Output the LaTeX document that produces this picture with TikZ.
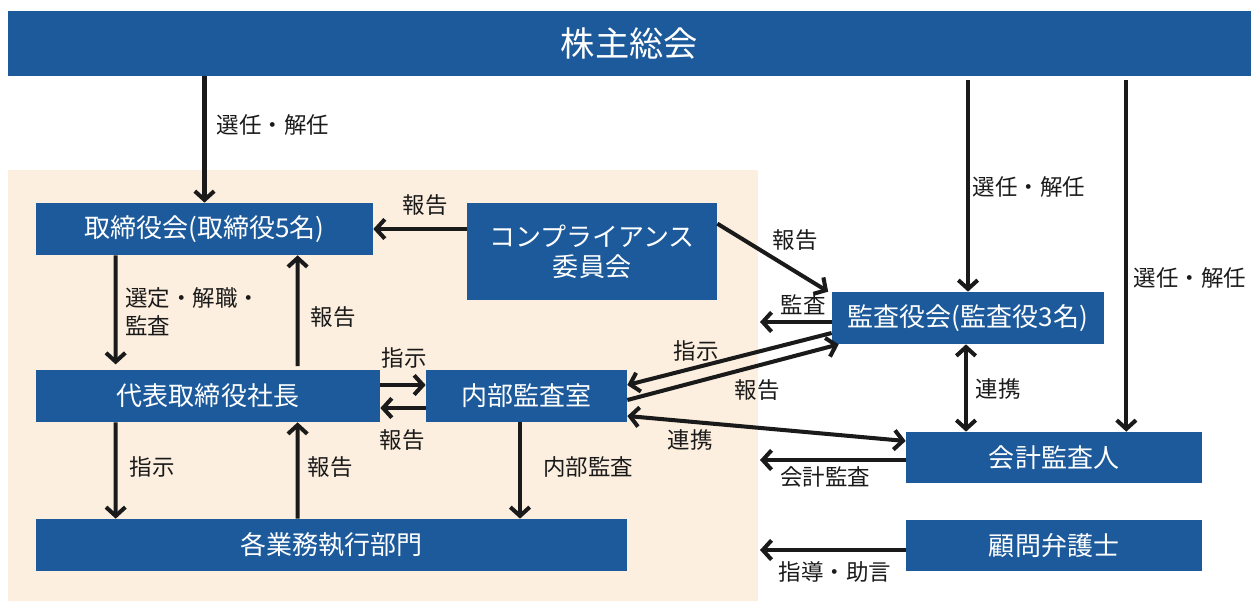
\documentclass[tikz,border=0pt]{standalone}
\usepackage{fontspec}
\setmainfont{Noto Sans CJK JP}
\usetikzlibrary{arrows.meta}
\definecolor{boxblue}{RGB}{28,90,155}
\definecolor{peach}{RGB}{253,239,223}
\definecolor{ink}{RGB}{26,26,26}

\begin{document}
\begin{tikzpicture}[x=0.02cm, y=-0.02cm]
\tikzstyle{box}=[fill=boxblue, text=white, font=\fontsize{14.8}{17}\selectfont, inner sep=0pt, minimum height=1.04cm];
\tikzstyle{lbl}=[text=ink, font=\fontsize{12.8}{16}\selectfont, inner sep=0pt];
\tikzstyle{arr}=[draw=ink, line width=2.3pt, -{Straight Barb[length=5pt,width=11pt]}];
\tikzstyle{arrs}=[arr, {Straight Barb[length=5pt,width=11pt]}-{Straight Barb[length=5pt,width=11pt]}];
\useasboundingbox (0,0) rectangle (1259,613);
\fill[peach] (8,170) rectangle (758,601);
\node [box, minimum width=24.86cm, minimum height=1.3cm, font=\fontsize{19.5}{22}\selectfont] (sokai) at (629.5, 43.5) {株主総会};
\node [box, minimum width=6.74cm] (torishimari) at (204.5, 229) {取締役会(取締役5名)};
\node [box, minimum width=5cm, minimum height=1.94cm, align=center] (comp) at (592, 251.5) {コンプライアンス\\委員会};
\node [box, minimum width=6.88cm] (shacho) at (208, 396) {代表取締役社長};
\node [box, minimum width=4.02cm] (naibu) at (526.5, 396) {内部監査室};
\node [box, minimum width=11.82cm] (bumon) at (331.5, 545) {各業務執行部門};
\node [box, minimum width=5.44cm] (kansayaku) at (968, 318) {監査役会(監査役3名)};
\node [box, minimum width=5.92cm, minimum height=1.02cm] (kaikei) at (1054, 457.5) {会計監査人};
\node [box, minimum width=5.92cm, minimum height=1.02cm] (komon) at (1054, 545.5) {顧問弁護士};
\coordinate (kansaL) at (760, 322);
\coordinate (kaikeiL) at (760, 460);
\coordinate (komonL) at (760, 550);
% shareholders
\draw [arr] (sokai.south -| torishimari.north) -- (torishimari.north);
\draw [arr, shorten <=2pt] (sokai.south -| kansayaku.north) -- (kansayaku.north);
\draw [arr, shorten <=2pt] ([xshift=-1.52cm]sokai.south -| kaikei.north east) -- ([xshift=-1.52cm]kaikei.north east);
% board
\draw [arr] (torishimari.east -| comp.west) -- (torishimari.east);
\draw [arr] ([yshift=-0.42cm]comp.north east) -- ([xshift=-2pt]kansayaku.north west);
\draw [arr, shorten >=3pt] ([xshift=1.6cm]torishimari.south west) -- ([xshift=1.6cm]shacho.north west);
\draw [arr] ([xshift=5.24cm,yshift=2pt]shacho.north west) -- ([xshift=5.24cm]torishimari.south west);
\draw [arr] ([yshift=0.22cm]shacho.east) -- ([yshift=0.22cm]naibu.west);
\draw [arr] ([yshift=-0.24cm]naibu.west) -- ([yshift=-0.24cm]shacho.east);
\draw [arr] ([xshift=1.6cm]shacho.south west) -- ([xshift=1.6cm]bumon.north west);
\draw [arr] ([xshift=5.24cm]bumon.north west) -- ([xshift=5.24cm]shacho.south west);
\draw [arr] ([xshift=-0.13cm]naibu.south) -- ([xshift=-0.13cm]naibu.south |- bumon.north);
% auditors
\draw [arr] (kansayaku.west |- kansaL) -- (kansaL);
\draw [arr] ([yshift=-0.3cm]kansayaku.west) -- ([yshift=0.22cm]naibu.east);
\draw [arr] ([yshift=-0.08cm]naibu.east) -- ([xshift=4pt]kansayaku.south west);
\draw [arrs] ([yshift=-0.4cm]naibu.east) -- ([yshift=0.33cm]kaikei.west);
\draw [arrs] ([xshift=-0.04cm]kansayaku.south) -- ([xshift=-0.04cm]kansayaku.south |- kaikei.north);
\draw [arr] (kaikei.west |- kaikeiL) -- (kaikeiL);
\draw [arr] (komon.west |- komonL) -- (komonL);
% labels
\node [lbl] (l1) at (273, 125) {選任・解任};
\node [lbl] (l2) at (1029, 187) {選任・解任};
\node [lbl] (l3) at (1190, 278) {選任・解任};
\node [lbl] (l4) at (425, 205) {報告};
\node [lbl] (l5) at (795, 240) {報告};
\node [lbl] (l6) at (803, 305) {監査};
\node [lbl] (l7) at (696, 351) {指示};
\node [lbl] (l8) at (757, 390) {報告};
\node [lbl] (l9) at (690, 440) {連携};
\node [lbl] (l10) at (998, 389) {連携};
\node [lbl] (l11) at (825, 477) {会計監査};
\node [lbl] (l12) at (835, 572) {指導・助言};
\node [lbl, anchor=north west, align=left, font=\fontsize{12.8}{16}\selectfont] (l13) at (125, 287) {選定・解職・\\監査};
\node [lbl] (l14) at (333, 317) {報告};
\node [lbl] (l15) at (404, 358) {指示};
\node [lbl] (l16) at (402, 440) {報告};
\node [lbl] (l17) at (152, 467) {指示};
\node [lbl] (l18) at (330, 467) {報告};
\node [lbl] (l19) at (588, 467) {内部監査};
\end{tikzpicture}
\end{document}
